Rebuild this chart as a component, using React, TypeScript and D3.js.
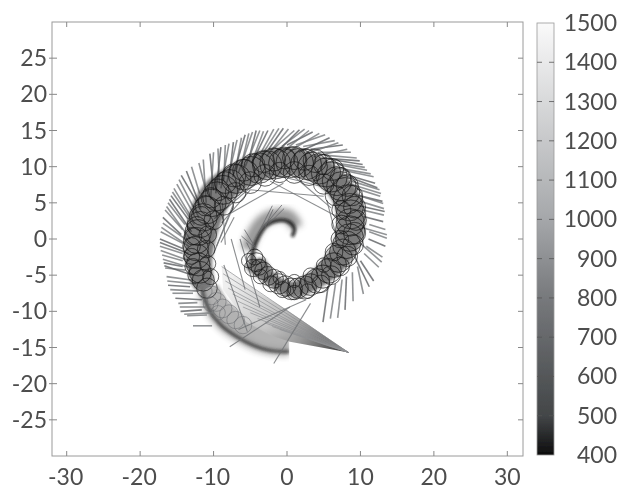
import React from "react";
import * as d3 from "d3";

const xTicks = [-30, -20, -10, 0, 10, 20, 30];
const yTicks = [-25, -20, -15, -10, -5, 0, 5, 10, 15, 20, 25];
const barTicks = [400, 500, 600, 700, 800, 900, 1000, 1100, 1200, 1300, 1400, 1500];

// [x1, y1, x2, y2] outer strokes of the trajectory
const barbs = [
  [5.6,-6.5,4.9,-11.5],[6.6,-6.2,5.9,-11],[7.5,-5.6,6.9,-10.9],[8.1,-5.2,7.9,-9.8],[8.9,-4.6,9,-8.6],[9.6,-3.8,10.4,-7.6],
  [10,-3,11.8,-5.8],[10.5,-2,12.5,-3.9],[10.8,-1,13,-2.5],[11.1,0,13.4,-1],[11.2,1,13.6,0.1],[11.2,2,13.4,1.3],
  [10.4,3.1,13.1,2.4],[10.3,4,13.2,3.3],[10,5.2,13.2,4.2],[9.8,6,13,5.2],[9.3,7,12.7,5.9],[8.8,8,12.6,6.8],
  [8.3,8.8,12,7.7],[7.6,9.5,11.8,8.6],[6.8,10.3,10.9,9.5],[6,11,10.3,10.3],[5,11.6,9.5,11.2],[4.2,12,8.7,12],
  [3.2,12.4,7.6,13],[2.2,12.8,6.5,13.6],[1.2,13,5.2,14.4],[0,13,3.5,14.8],[-0.7,12.8,2.4,15.2],[-1.7,12.6,1,15],
  [-2.5,12.4,-0.5,15.3],[-3.5,12,-1.8,15.2],[-4.5,11.4,-3.2,14.9],[-5.2,11,-4.2,15],[-6.2,10.3,-5.2,14.6],[-7,9.6,-6.2,14],
  [-7.8,9,-7.3,13.4],[-8.6,8.2,-8.4,13],[-9.2,7.5,-9.4,12.5],[-10,6.7,-10.5,11.8],[-11,6.5,-12,10.5],[-11.9,6.3,-13,10],
  [-12.2,5,-14.4,8.8],[-12.8,3.6,-15,7.6],[-13.2,3.3,-15.4,7],[-13.5,2.8,-15.8,6],[-13.9,2,-16.2,5],[-14.2,1.3,-16.6,4],
  [-14.4,0.6,-16.9,3],[-13.7,-0.1,-16.9,2.2],[-14.2,-0.6,-17.2,1],[-14.2,-1.3,-17.3,0],[-14.2,-2,-17.3,-1],[-14.2,-3,-17,-2.2],
  [-14.2,-3.8,-16.8,-3.3],[-13.8,-4.3,-16.6,-4],[-12.8,-5.7,-16.4,-5.2],[-13.2,-6.6,-16.2,-6.4],[-12.8,-7.5,-15.6,-7.5],
  [-12.2,-8.8,-14.8,-8.9],[-11.6,-9.8,-14.5,-10],[-10.9,-10.5,-13.6,-10.6],[-10.2,-12,-12.8,-12],
];
const barbsB = [
  [9.2,-2.4,11.2,-6.6],[10,-0.6,12.9,-3.2],[10.2,1.6,13.6,0.6],[9.8,4.6,13.3,3.8],[9.3,6.2,13.1,4.9],[8.6,7.6,12.8,6.3],
  [7.8,8.8,12.3,7.1],[7,9.8,11.4,9],[5.8,10.6,10.6,9.9],[4.8,11.2,9.9,10.8],[3.6,11.4,8.2,12.4],[2.6,11.8,7,13.3],
  [1.6,12,5.8,14],[0.4,12.2,4.4,14.6],[-0.6,12,3,15],[-1.6,11.8,1.7,15.1],[-2.8,11.4,0.2,15.2],[-3.8,11,-1.1,15.3],
  [-4.8,10.5,-2.6,15],[-5.7,10,-3.7,15],[-6.6,9.2,-4.7,14.8],[-7.4,8.6,-5.7,14.4],[-8.2,7.8,-6.8,13.7],[-9,7,-7.9,13.2],
  [-9.7,6.3,-9,12.7],[-10.4,5.4,-10,12],[-11,5,-11.4,11],[-11.7,4.2,-13.7,9.4],[-12,3,-14.7,8.2],[-12.6,2,-15.6,6.5],
  [-13,1,-16,5.5],[-13.2,0,-16.4,4.5],[-13.4,-1,-17.1,1.6],[-13.4,-2,-17.3,-0.5],[-13.3,-3,-17.2,-1.6],[-13,-4,-16.9,-2.8],
  [-12.8,-5,-16.7,-3.7],[-12.4,-6.2,-16.3,-5.8],[-12,-7.2,-15.9,-7],[-11.6,-8.4,-15.2,-8.2],[-11,-9.4,-14.6,-9.4],[-10,-10.2,-14,-10.4],
];

// [x, y, radius] small loops that make up the dark band
const loops = [
  [-4.4,-2.5,1.1],[-4.2,-3.2,1.3],[-3.8,-3.9,1.1],[-3.2,-4.4,1.2],[-2.6,-5.1,1.3],[-1.8,-5.5,1.3],[-1.1,-6.2,1.4],[-0.2,-6.5,1.4],
  [0.6,-6.9,1.5],[1.5,-6.8,1.4],[2.4,-6.7,1.6],[3.2,-6.3,1.5],[4.1,-5.8,1.7],[4.9,-5.2,1.6],[5.7,-4.4,1.7],[6.4,-3.6,1.7],
  [7,-2.7,1.9],[7.6,-1.8,1.8],[8.1,-0.8,1.9],[8.5,0.2,1.9],[8.6,1.2,2],[8.6,2.3,1.9],[8.7,3.4,2],[8.5,4.4,1.9],[8.3,5.5,2],[7.9,6.5,2],
  [7.4,7.3,2],[6.8,8,2],[6.1,8.6,2.1],[5.3,9.2,2],[4.4,9.7,2.1],[3.5,10,2],[2.6,10.3,2.1],[1.6,10.5,2],[0.6,10.6,2.1],
  [-0.5,10.5,2],[-1.6,10.4,2.1],[-2.7,10.2,2],[-3.8,9.8,2.1],[-4.9,9.4,2],[-5.9,8.9,2.1],[-6.9,8.3,2],[-7.8,7.6,2],
  [-8.7,6.8,2],[-9.5,5.9,2],[-10.2,5,1.9],[-10.9,4.0,1.9],[-11.4,3.0,1.9],[-11.8,2,1.8],[-12.1,0.9,1.8],[-12.3,-0.2,1.8],
  [-12.4,-1.3,1.7],[-12.3,-2.4,1.7],[-12.1,-3.5,1.6],[-11.8,-4.6,1.5],[-11.4,-5.7,1.5],[-10.9,-6.8,1.4],
];
const loopsB = [
  [-5.2,-3,1],[-4.6,-4,1.2],[-3.6,-5.2,1],[-2.2,-6.2,1.1],[-0.6,-7,1.1],[1,-7.4,1],[2.8,-7.2,1],[4.6,-6.2,1.2],[6,-5,1.3],[7.2,-3.8,1.3],
  [8.2,-2.4,1.4],[9,-0.8,1.4],[9.2,0.8,1.5],[9.4,2.6,1.4],[9.2,4.4,1.5],[8.9,6,1.4],[8.2,7.4,1.5],[7.3,8.5,1.4],[6.2,9.6,1.5],[5,10.3,1.4],
  [3.8,10.8,1.6],[2.4,11,1.5],[1,11.2,1.6],[-0.4,11.2,1.5],[-1.8,11,1.6],[-3.2,10.7,1.5],[-4.6,10.2,1.6],[-5.9,9.5,1.5],[-7.2,8.8,1.6],[-8.4,7.8,1.5],
  [-9.4,6.8,1.5],[-10.3,5.7,1.4],[-11.1,4.6,1.4],[-11.7,3.2,1.3],[-12.3,1.8,1.3],[-12.8,0.4,1.2],[-13,-1,1.2],[-13,-2.4,1.1],[-12.8,-3.8,1.1],[-12.4,-5,1.1],
  [-7,6.4,1.4],[-5,7.8,1.5],[-3,8.8,1.5],[-1,9.2,1.4],[1,9.2,1.5],[3,8.8,1.4],[5,7.6,1.4],[6.6,6,1.4],[7.4,4,1.3],[7.4,2,1.3],
  [7.2,0,1.2],[6.4,-1.8,1.2],[5,-3.6,1],[3.2,-5,1],[1,-5.8,0.9],[-1,-5.4,0.9],[-8.6,4.6,1.3],[-10,2.6,1.3],[-10.8,0.6,1.2],[-11,-1.4,1.2],
  [-10.8,-3.4,1.1],[-10.4,-5.2,1.1],
];
// pale scallops along the lower-left arm
const scallops = [
  [-10.3,-7.8,1.3],[-9.6,-8.7,1.3],[-8.8,-9.6,1.3],[-7.9,-10.4,1.3],[-7,-11.2,1.2],[-6,-11.9,1.2],[-11.2,-7.2,1],[-10.4,-9,1],[-9.4,-10.2,1],
];

const bandOuter = [
  [-5.6,-3.8],[-3,-6],[0.8,-8.1],[4,-7],[6.8,-5.2],[9.2,-2.2],[10.4,0.6],[10.6,3],[10,5.8],[8.2,8.6],[5.4,11],[2.4,12.2],[-0.5,12.6],[-4,12],[-7.4,10.4],[-10.9,8],[-12.8,5],[-13.7,1.5],[-14,-1.5],[-13.6,-4],[-12.4,-7],
];
const bandInner = [
  [-10.2,-6.4],[-10.2,-3],[-9.6,0.3],[-8.6,3.2],[-7.3,5.6],[-4.6,7.6],[-1.5,8.6],[1.8,8.6],[4.6,7.2],[6.4,4.8],[6.8,2],[6.2,-0.8],[4,-3.8],[2,-5.3],[0.8,-5.9],[-1.5,-4.9],[-3.4,-2.6],
];

// interior straight strokes
const chords = [
  [-10,-2,-7.3,4.5],[-8.9,2.2,-5,6.8],[-7.8,3.5,-0.5,7.7],[-5,6.8,5,5.9],[-2.3,8,6.8,3.1],[5.4,5.4,6.8,0],[-9.6,-1,-6.2,7.6],
  [-6.4,0,-3.7,-9.4],[-7.8,-14.9,0.4,-9.4],[-1.8,-17.2,3.2,-8.9],[-6.6,-12.5,2.6,-8.4],[-8.6,-3.6,-5.4,-12.8],[-3,9.2,4.6,7.3],
  [-9.9,2.8,-3.4,8.5],[1,8.6,6,4.3],[-8.4,-0.8,-8.8,5],[-7.6,0,-5.7,-7],[-9,-0.5,-7.2,3],
];

const fanTip = [8.4, -15.7];
const fanEnds = [
  [-8.9,-3.8],[-8.7,-4.8],[-8.4,-5.8],[-8,-6.8],[-7.4,-7.6],[-6.7,-8.6],[-6,-9.4],[-5,-10.2],[-4,-11],[-3,-11.6],[-2,-12.1],[-1,-12.5],
];
const wedge = [[8.4,-15.7],[0,-9.8],[-3.2,-7.8],[-8.9,-3.8],[-8.7,-7],[-5.5,-11.5],[-2,-13.4],[0.4,-14.2]];
const crescentOuter = [[-11.6,-7],[-10.6,-9.8],[-9,-11.9],[-7,-13.4],[-4.6,-14.7],[-2.4,-15.4],[0.3,-15.6]];
const crescentInner = [[-9.4,-6.3],[-8.2,-8.4],[-6,-10.4],[-3.2,-12.4],[0.3,-13.8]];
const innerCurl = [[0.7,0.3],[1,1.4],[0.2,2.4],[-1.2,2.6],[-2.8,1.9],[-3.9,0.3],[-4.6,-1.5],[-4.8,-3.4]];
const innerHalo = [[1.3,1.6],[0.3,3.1],[-1.5,3.3],[-3.4,2.4],[-4.7,0.5],[-5.4,-1.5]];
const wisps = [
  [-3.6,1.2,-0.7,4.7],[-3.9,0.8,-2,4.6],[-3,1.6,-1.9,4.1],[-6.2,0.4,-3.9,-1.6],[-5.8,1.3,-4.4,-1],[-5.5,-0.5,-4,-3.5],[-2.6,2,-0.4,4.2],
];

const barColor = d3.scaleLinear<string>()
  .domain([400, 450, 800, 1000, 1500])
  .range(["#0d0d0d", "#3a3d3f", "#77797c", "#a5a7aa", "#fafafa"]);

const W = 619, H = 491;
const x = d3.scaleLinear().domain([-32, 32]).range([52, 522]);
const y = d3.scaleLinear().domain([-30, 30]).range([456, 22]);
const bar = d3.scaleLinear().domain([400, 1500]).range([455, 23]);
const FONT = "Lato, 'Open Sans', sans-serif";
const TXT = "#4d4d4d";
const pathOf = d3.line<number[]>().x(d => x(d[0])).y(d => y(d[1]));
const curveOf = d3.line<number[]>().x(d => x(d[0])).y(d => y(d[1])).curve(d3.curveCatmullRom);
const closedOf = d3.line<number[]>().x(d => x(d[0])).y(d => y(d[1])).curve(d3.curveCatmullRomClosed);

export default function App() {
  const crescent = [...crescentOuter, ...crescentInner.slice().reverse()];
  const band = [...bandOuter, ...bandInner];
  return (
    <svg width={W} height={H} style={{ position: "absolute", left: 0, top: 0, background: "#fff" }} fontFamily={FONT}>
      <defs>
        <linearGradient id="cb" x1="0" y1="1" x2="0" y2="0">
          {barTicks.map(v => (
            <stop key={v} offset={(v - 400) / 1100} stopColor={barColor(v)} />
          ))}
        </linearGradient>
        <linearGradient id="wg" gradientUnits="userSpaceOnUse" x1={x(8.4)} y1={y(-15.7)} x2={x(-8)} y2={y(-6)}>
          <stop offset="0" stopColor="#1c1c1c" />
          <stop offset="0.12" stopColor="#444" />
          <stop offset="0.35" stopColor="#8e8e8e" />
          <stop offset="0.6" stopColor="#c0c0c0" />
          <stop offset="1" stopColor="#eeeeee" />
        </linearGradient>
        <filter id="soft" x="-10%" y="-10%" width="120%" height="120%"><feGaussianBlur stdDeviation="0.6" /></filter>
        <filter id="tex" x="-10%" y="-10%" width="120%" height="120%"><feGaussianBlur stdDeviation="0.45" /></filter>
        <filter id="mid" x="-30%" y="-30%" width="160%" height="160%"><feGaussianBlur stdDeviation="1.8" /></filter>
        <filter id="heavy" x="-30%" y="-30%" width="160%" height="160%"><feGaussianBlur stdDeviation="3.2" /></filter>
        <clipPath id="cx"><rect x={0} y={0} width={x(0.3)} height={H} /></clipPath>
      </defs>

      <g filter="url(#soft)">
        <rect x={52} y={22} width={471} height={434} fill="#fff" stroke="#9a9a9a" strokeWidth={1} />
        {xTicks.map(t => (
          <g key={t} stroke="#888">
            <line x1={x(t)} x2={x(t)} y1={456} y2={451} />
            <line x1={x(t)} x2={x(t)} y1={22} y2={27} />
          </g>
        ))}
        {yTicks.map(t => (
          <g key={t} stroke="#888">
            <line x1={49} x2={57} y1={y(t)} y2={y(t)} />
            <line x1={523} x2={518} y1={y(t)} y2={y(t)} />
          </g>
        ))}
      </g>

      {/* shaded crescent and wedge */}
      <g clipPath="url(#cx)">
        <path d={curveOf(crescentOuter) ?? ""} fill="none" stroke="#333" strokeWidth={8} opacity={0.45} filter="url(#heavy)" />
        <path d={pathOf(crescent) + "Z"} fill="#a0a0a0" opacity={0.8} filter="url(#mid)" />
        <path d={curveOf(crescentOuter) ?? ""} fill="none" stroke="#1a1a1a" strokeWidth={3} opacity={0.75} filter="url(#mid)" />
      </g>
      <path d={pathOf(wedge) + "Z"} fill="url(#wg)" opacity={0.9} filter="url(#soft)" />

      {/* inner curl */}
      <path d={curveOf(innerHalo) ?? ""} fill="none" stroke="#555" strokeWidth={13} opacity={0.6} filter="url(#heavy)" />
      <path d={curveOf(innerCurl) ?? ""} fill="none" stroke="#111" strokeWidth={3.5} opacity={0.9} filter="url(#mid)" />

      <g filter="url(#soft)" fill="none">
        {fanEnds.map((e, i) => (
          <line key={i} x1={x(fanTip[0])} y1={y(fanTip[1])} x2={x(e[0])} y2={y(e[1])} stroke={barColor(900)} strokeWidth={1} opacity={0.7} />
        ))}
        {[...barbs, ...barbsB].map((b, i) => (
          <line key={i} x1={x(b[0])} y1={y(b[1])} x2={x(b[2])} y2={y(b[3])} stroke={barColor(i % 3 === 0 ? 650 : 800)} strokeWidth={1.6} opacity={0.8} />
        ))}
        {chords.map((b, i) => (
          <line key={i} x1={x(b[0])} y1={y(b[1])} x2={x(b[2])} y2={y(b[3])} stroke={barColor(750)} strokeWidth={1.1} opacity={0.8} />
        ))}
        {wisps.map((b, i) => (
          <line key={i} x1={x(b[0])} y1={y(b[1])} x2={x(b[2])} y2={y(b[3])} stroke={barColor(700)} strokeWidth={1} opacity={0.8} />
        ))}
      </g>

      {/* dark band */}
      <path d={closedOf(band) ?? ""} fill="#2c2c2c" opacity={0.62} filter="url(#mid)" />
      <g filter="url(#tex)" fill="none">
        {[...loops, ...loopsB].map((c, i) => (
          <ellipse key={i} cx={x(c[0])} cy={y(c[1])} rx={x(c[2]) - x(0)} ry={y(0) - y(c[2])} stroke={barColor(400)} strokeWidth={1} opacity={0.62} />
        ))}
        {scallops.map((c, i) => (
          <ellipse key={i} cx={x(c[0])} cy={y(c[1])} rx={x(c[2]) - x(0)} ry={y(0) - y(c[2])} stroke={barColor(700)} strokeWidth={1} opacity={0.5} />
        ))}
      </g>

      {/* colour bar */}
      <g filter="url(#soft)">
        <rect x={537} y={bar(1500)} width={17} height={bar(400) - bar(1500)} fill="url(#cb)" stroke="#999" strokeWidth={0.8} />
        {barTicks.slice(1, -1).map(t => (
          <g key={t} stroke="#555" strokeWidth={0.8}>
            <line x1={537} x2={542} y1={bar(t)} y2={bar(t)} />
            <line x1={549} x2={554} y1={bar(t)} y2={bar(t)} />
          </g>
        ))}
      </g>

      <g fill={TXT} fontSize={23} filter="url(#soft)">
        {xTicks.map(t => (
          <text key={t} x={x(t) + (t < 0 ? -1 : 0)} y={485} textAnchor="middle">{t}</text>
        ))}
        {yTicks.map(t => (
          <text key={t} x={47} y={y(t) + 8} textAnchor="end">{t}</text>
        ))}
        {barTicks.map(t => (
          <text key={t} x={617} y={bar(t) + 8} textAnchor="end">{t}</text>
        ))}
      </g>
    </svg>
  );
}
